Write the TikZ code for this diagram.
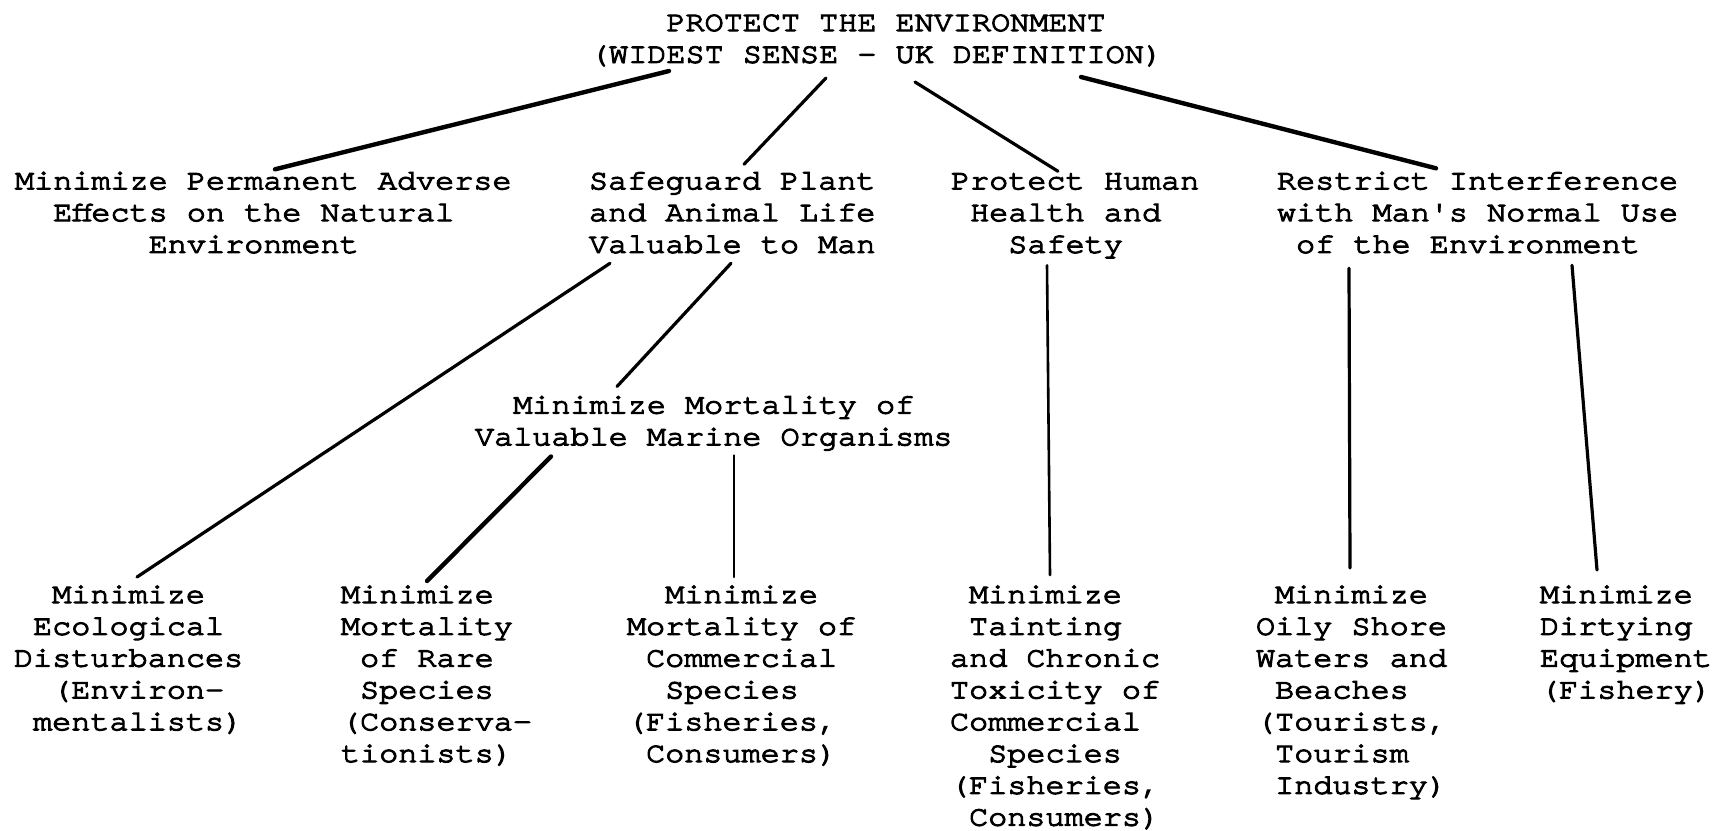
\documentclass[tikz,border=0pt]{standalone}
\usepackage{fontspec}
\usetikzlibrary{calc}
% typewriter face, widened to a 10-pitch carriage
\newfontfamily\tw{TeX Gyre Cursor}[FakeStretch=1.117,FakeBold=4]
% a block of typed lines; first line's baseline is the block's baseline
\newcommand\tlines[1]{\vtop{\baselineskip=31.8pt\lineskiplimit=-50pt\lineskip=0pt\relax #1}}
% one typed line, indented by #1 character cells
\newcommand\tl[2]{\hbox{\hskip #1\fontcharwd\font`M\relax #2}}
\begin{document}
\begin{tikzpicture}[x=1pt,y=-1pt,
  txt/.style={anchor=base west,inner sep=0pt,outer sep=0pt,
    font=\tw\fontsize{28.5}{31.8}\selectfont},
  link/.style={line width=3.2pt,line cap=round},
  heavy/.style={line width=4.4pt,line cap=round},
  light/.style={line width=2.6pt,line cap=round}]
\useasboundingbox (0,0) rectangle (1716,830);

% goal
\node[txt] (R) at (590,31) {\tlines{\tl4{PROTECT THE ENVIRONMENT}\tl0{(WIDEST SENSE - UK DEFINITION)}}};

% first-level objectives
\node[txt] (A) at (15,189.3) {\tlines{\tl0{Minimize Permanent Adverse}\tl2{Effects on the Natural}\tl7{Environment}}};
\node[txt] (B) at (589,189.3) {\tlines{\tl0{Safeguard Plant}\tl0{and Animal Life}\tl0{Valuable to Man}}};
\node[txt] (C) at (951,189.3) {\tlines{\tl0{Protect Human}\tl1{Health and}\tl3{Safety}}};
\node[txt] (D) at (1277,189.3) {\tlines{\tl0{Restrict Interference}\tl0{with Man's Normal Use}\tl1{of the Environment}}};

% intermediate objective
\node[txt] (M) at (475,413.5) {\tlines{\tl2{Minimize Mortality of}\tl0{Valuable Marine Organisms}}};

% lowest-level objectives
\node[txt] (E1) at (14,603) {\tlines{\tl2{Minimize}\tl1{Ecological}\tl0{Disturbances}\tl2{(Environ-}\tl1{mentalists)}}};
\node[txt] (E2) at (341,603) {\tlines{\tl0{Minimize}\tl0{Mortality}\tl1{of Rare}\tl1{Species}\tl0{(Conserva-}\tl0{tionists)}}};
\node[txt] (E3) at (627,603) {\tlines{\tl2{Minimize}\tl0{Mortality of}\tl1{Commercial}\tl2{Species}\tl0{(Fisheries,}\tl1{Consumers)}}};
\node[txt] (F1) at (950,603) {\tlines{\tl1{Minimize}\tl1{Tainting}\tl0{and Chronic}\tl0{Toxicity of}\tl0{Commercial}\tl2{Species}\tl0{(Fisheries,}\tl1{Consumers)}}};
\node[txt] (F2) at (1256,603) {\tlines{\tl1{Minimize}\tl0{Oily Shore}\tl0{Waters and}\tl1{Beaches}\tl0{(Tourists,}\tl1{Tourism}\tl1{Industry)}}};
\node[txt] (F3) at (1540,603) {\tlines{\tl0{Minimize}\tl0{Dirtying}\tl0{Equipment}\tl0{(Fishery)}}};

% goal to first level
\draw[heavy] ($(R.base west)+(79,40)$) -- ($(A.base west)+(260,-20)$);
\draw[link]  ($(R.base west)+(236,47)$) -- ($(B.base west)+(155,-25)$);
\draw[link]  ($(R.base west)+(325,51)$) -- ($(C.base west)+(107,-18)$);
\draw[heavy] ($(R.base west)+(491,46)$) -- ($(D.base west)+(159,-21)$);

% first level downwards
\draw[link]  ($(B.base west)+(21,74)$) -- ($(E1.base west)+(123,-26)$);
\draw[link]  ($(B.base west)+(142,74)$) -- ($(M.base west)+(142,-27)$);
\draw[heavy] ($(M.base west)+(76,43)$) -- ($(E2.base west)+(86,-22)$);
\draw[light] ($(M.base west)+(259,42)$) -- ($(E3.base west)+(107,-26)$);
\draw[light] ($(C.base west)+(96,76)$) -- ($(F1.base west)+(100,-28)$);
\draw[link]  ($(D.base west)+(72,79)$) -- ($(F2.base west)+(94,-35)$);
\draw[link]  ($(D.base west)+(295,76)$) -- ($(F3.base west)+(57,-33)$);
\end{tikzpicture}
\end{document}
